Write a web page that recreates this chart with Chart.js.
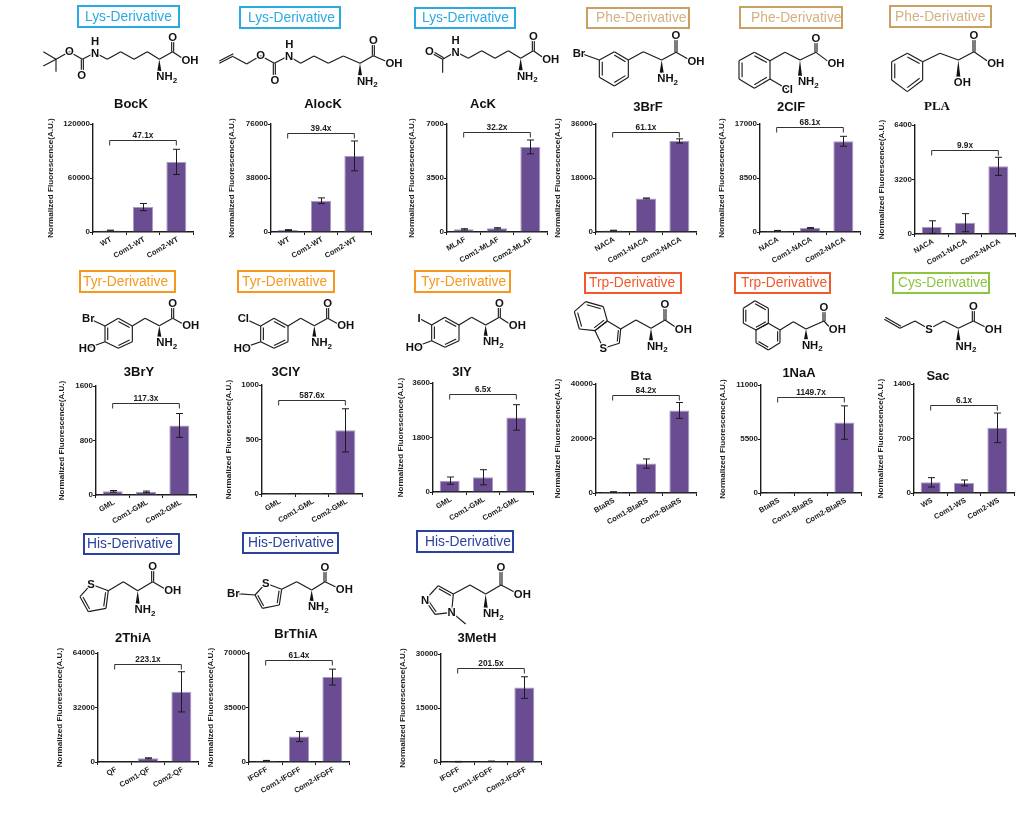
<!DOCTYPE html>
<html><head><meta charset="utf-8">
<script src="https://cdn.jsdelivr.net/npm/chart.js@4"></script>
<style>
html,body{margin:0;padding:0;background:#fff;width:1034px;height:819px;overflow:hidden}
#page{position:relative;width:1034px;height:819px;font-family:"Liberation Sans",Arial,sans-serif;filter:blur(.35px)}
canvas{position:absolute}
.tag{position:absolute;box-sizing:border-box;border-style:solid;border-width:2px;font-size:13.8px;line-height:1}
.tag span{position:absolute;white-space:nowrap}
.ttl{position:absolute;font-weight:bold;font-size:13px;color:#111;transform:translate(-50%,-50%);white-space:nowrap}
svg{position:absolute;left:0;top:0}
</style></head><body><div id="page"><svg id="mols" width="1034" height="819"></svg></div>
<script>
// ---- category labels
const catWT=['WT','Com1-WT','Com2-WT'];
const catMLAF=['MLAF','Com1-MLAF','Com2-MLAF'];
const catNACA=['NACA','Com1-NACA','Com2-NACA'];
const catGML=['GML','Com1-GML','Com2-GML'];
const catBtaRS=['BtaRS','Com1-BtaRS','Com2-BtaRS'];
const catWS=['WS','Com1-WS','Com2-WS'];
const catQF=['QF','Com1-QF','Com2-QF'];
const catIFGFF=['IFGFF','Com1-IFGFF','Com2-IFGFF'];
// ---- bar values and error half-widths
const valBocK=[1650,27700,77900],   errBocK=[400,4000,14000];
const valAlocK=[1360,22000,53550],  errAlocK=[300,2000,10500];
const valAcK=[171,237,5514],        errAcK=[40,40,450];
const val3BrF=[497,11190,30350],    err3BrF=[100,150,700];
const val2ClF=[208,630,14280],      err2ClF=[40,60,780];
const valPLA=[405,665,3973],        errPLA=[370,530,530];
const val3BrY=[54,46,1021],         err3BrY=[12,12,175];
const val3ClY=[1,1,584],            err3ClY=[0,0,198];
const val3IY=[375,486,2463],        err3IY=[120,250,420];
const valBta=[360,10800,30300],     errBta=[100,1700,2900];
const val1NaA=[6,6,7175],           err1NaA=[0,0,1700];
const valSac=[137,129,837],         errSac=[60,38,190];
const val2ThiA=[180,2160,41200],    err2ThiA=[0,300,11800];
const valBrThiA=[870,16320,54540],  errBrThiA=[150,3200,5100];
const val3MetH=[102,200,20680],     err3MetH=[60,60,3000];
// ---- axis maxima, fold-change labels, bracket levels
const axisMax=[120000,76000,7000,36000,17000,6400,1600,1000,3600,40000,11000,1400,64000,70000,30000];
const foldLabels=['47.1x','39.4x','32.2x','61.1x','68.1x','9.9x','117.3x','587.6x','6.5x','84.2x','1149.7x','6.1x','223.1x','61.4x','201.5x'];
const bracketLevels=[102000,70000,6480,33200,16600,4930,1355,862,3240,36000,9750,1130,57500,65300,26200];
const panelNames=['BocK','AlocK','AcK','3BrF','2ClF','PLA','3BrY','3ClY','3IY','Bta','1NaA','Sac','2ThiA','BrThiA','3MetH'];
const panelCats=[catWT,catWT,catMLAF,catNACA,catNACA,catNACA,catGML,catGML,catGML,catBtaRS,catBtaRS,catWS,catQF,catIFGFF,catIFGFF];
const panelVals=[valBocK,valAlocK,valAcK,val3BrF,val2ClF,valPLA,val3BrY,val3ClY,val3IY,valBta,val1NaA,valSac,val2ThiA,valBrThiA,val3MetH];
const panelErrs=[errBocK,errAlocK,errAcK,err3BrF,err2ClF,errPLA,err3BrY,err3ClY,err3IY,errBta,err1NaA,errSac,err2ThiA,errBrThiA,err3MetH];

// ---- layout: axis x, plot top, plot bottom, y-title offset, title x, title y
const layout=[
[93,124,232,42,131,103],[271,124,232,39,323,103],[447,124,232,35,483,103],[596,124,232,38,648,106],[760,124,232,38,791,106],[915,125,234,33,937,106],
[96,386,495,34,139,371],[262,385,494,33,286,371],[433,383,492,32,462,371],[596,384,493,38,641,375],[761,385,493,38,799,372],[914,384,493,33,938,375],
[98,653,762,38,133,637],[249,653,762,38,296,633],[441,654,762,38,477,637]];

const INK='#1c1c1c', BAR='#6a4c93';
const page=document.getElementById('page');

const overlay={id:'overlay',afterDatasetsDraw(c,a,o){
  const g=c.ctx,x=c.scales.x,y=c.scales.y;
  g.save();g.strokeStyle=INK;g.lineWidth=1;
  o.vals.forEach((v,i)=>{const e=o.errs[i];if(!e)return;
    const px=Math.round(x.getPixelForValue(i))+.5,t=y.getPixelForValue(v+e),b=y.getPixelForValue(Math.max(v-e,0));
    g.beginPath();g.moveTo(px,t);g.lineTo(px,b);g.moveTo(px-3.5,t);g.lineTo(px+3.5,t);g.moveTo(px-3.5,b);g.lineTo(px+3.5,b);g.stroke();});
  const x0=x.getPixelForValue(0),x1=x.getPixelForValue(2),by=Math.round(y.getPixelForValue(o.level))+.5;
  g.strokeStyle='#333';g.beginPath();g.moveTo(x0,by+5);g.lineTo(x0,by);g.lineTo(x1,by);g.lineTo(x1,by+5);g.stroke();
  g.fillStyle=INK;g.font='bold 8.3px "Liberation Sans"';g.textAlign='center';g.textBaseline='alphabetic';
  g.fillText(o.label,(x0+x1)/2,by-2.5);
  g.restore();}};

panelNames.forEach((name,i)=>{
  const [ax,top,bot,off,tx,ty]=layout[i];
  const cv=document.createElement('canvas');
  const h=10+(bot-top)+50;
  cv.width=170;cv.height=h;cv.style.left=(ax-60)+'px';cv.style.top=(top-10)+'px';cv.style.width='170px';cv.style.height=h+'px';
  page.appendChild(cv);
  const t=document.createElement('div');t.className='ttl';t.textContent=name;t.style.left=tx+'px';t.style.top=ty+'px';
  if(name==='PLA')t.style.fontFamily='"Liberation Serif",serif';
  page.appendChild(t);
  new Chart(cv,{type:'bar',
    data:{labels:panelCats[i],datasets:[{data:panelVals[i],backgroundColor:BAR,borderColor:'#a99cc0',borderWidth:{top:1,left:1,right:1,bottom:0},barPercentage:.6,categoryPercentage:1}]},
    plugins:[overlay],
    options:{responsive:false,animation:false,devicePixelRatio:1,
      layout:{padding:{top:10,right:10,left:0,bottom:0}},
      plugins:{legend:{display:false},tooltip:{enabled:false},title:{display:false},
        overlay:{vals:panelVals[i],errs:panelErrs[i],level:bracketLevels[i],label:foldLabels[i]}},
      scales:{
        x:{afterFit(s){s.height=50},
           grid:{drawOnChartArea:false,tickLength:3,tickColor:INK,tickWidth:1},border:{color:INK,width:1.4},
           ticks:{autoSkip:false,maxRotation:30,minRotation:30,padding:0,labelOffset:1.5,color:INK,font:{family:'"Liberation Sans"',weight:'bold',size:7.5}}},
        y:{min:0,max:axisMax[i],afterFit(s){s.width=60},
           grid:{drawOnChartArea:false,tickLength:3,tickColor:INK,tickWidth:1},border:{color:INK,width:1.4},
           ticks:{stepSize:axisMax[i]/2,padding:0,color:INK,callback:v=>String(v),font:{family:'"Liberation Sans"',weight:'bold',size:8}},
           title:{display:true,text:'Normalized Fluorescence(A.U.)',color:INK,padding:{top:60-off-4,bottom:0},font:{family:'"Liberation Sans"',weight:'bold',size:8.1,lineHeight:1}}}
      }}});
});

// ---- category tags: box l,t,r,b, text x, label, border, text colour
const LYS='#29abe2',PHE='#c9a064',PHET='#d3b183',TYR='#f7981d',TRP='#f0592a',CYS='#8cc63f',HIS='#2b439e';
[[77,5,180,28,85,'Lys-Derivative',LYS,LYS],[239,6,341,29,248,'Lys-Derivative',LYS,LYS],[414,7,516,29,422,'Lys-Derivative',LYS,LYS],
 [586,7,690,29,596,'Phe-Derivative',PHE,PHET],[739,6,843,29,751,'Phe-Derivative',PHE,PHET],[889,5,992,28,895,'Phe-Derivative',PHE,PHET],
 [79,270,176,293,83,'Tyr-Derivative',TYR,TYR],[237,270,335,293,242,'Tyr-Derivative',TYR,TYR],[414,270,511,293,421,'Tyr-Derivative',TYR,TYR],
 [584,272,682,294,589,'Trp-Derivative',TRP,TRP],[734,272,831,294,741,'Trp-Derivative',TRP,TRP],[892,272,990,294,898,'Cys-Derivative',CYS,CYS],
 [83,533,180,555,87,'His-Derivative',HIS,HIS],[242,532,339,554,248,'His-Derivative',HIS,HIS],[416,530,514,553,425,'His-Derivative',HIS,HIS]
].forEach(([l,t,r,b,tx,s,bc,tc])=>{
  const d=document.createElement('div');d.className='tag';
  d.style.cssText=`left:${l}px;top:${t}px;width:${r-l}px;height:${b-t}px;border-color:${bc};color:${tc}`;
  const sp=document.createElement('span');sp.textContent=s;sp.style.left=(tx-l-2)+'px';sp.style.top=((b-t-4-13.8)/2)+'px';d.appendChild(sp);page.appendChild(d);
});

// ---- structural formula drawings
let svg='';
function line(a,b){return `<line x1="${a[0]}" y1="${a[1]}" x2="${b[0]}" y2="${b[1]}"/>`}
function poly(p){let s='';for(let i=0;i<p.length-1;i++)s+=line(p[i],p[i+1]);return s}
function dbl(a,b,sx,sy){return line(a,b)+line([a[0]+sx,a[1]+sy],[b[0]+sx,b[1]+sy])}
function ring(p,ed){const n=p.length,c=[p.reduce((s,q)=>s+q[0],0)/n,p.reduce((s,q)=>s+q[1],0)/n];
  let s=poly(p.concat([p[0]]));
  ed.forEach(i=>{const a=p[i],b=p[(i+1)%n];
    const ia=[a[0]+(c[0]-a[0])*.2,a[1]+(c[1]-a[1])*.2],ib=[b[0]+(c[0]-b[0])*.2,b[1]+(c[1]-b[1])*.2];
    s+=line(ia,ib)});return s}
function lab(t,x,y){let body=t;
  if(t==='NH2')body='NH<tspan font-size="24" dy="8">2</tspan>';
  return `<text x="${x}" y="${y}">${body}</text>`}
function tail(a,c,oy,oh,n,nl){
  const wy=n[1]-17;
  return {l:line(a,c)+dbl([c[0]-3,c[1]],[c[0]-3,oy+10],6,0)+line(c,[oh[0]-24,oh[1]-6])+
    `<polygon points="${a[0]},${a[1]} ${a[0]-6},${wy} ${a[0]+6},${wy}" fill="#111" stroke="none"/>`,
    t:lab('O',c[0],oy+12)+lab('OH',oh[0],oh[1]+11)+lab(nl||'NH2',n[0],n[1]+11)}}
function mol(ox,oy,bonds,labels,T){
  svg+=`<g transform="translate(${ox},${oy}) scale(.33333)"><g stroke="#1a1a1a" stroke-width="3.4" fill="none">${bonds}${T.l}</g>`+
   `<g font-family="Liberation Sans" font-size="34" font-weight="bold" fill="#111" text-anchor="middle" stroke="#fff" stroke-width="7" paint-order="stroke">${labels.map(l=>lab(...l)).join('')}${T.t}</g></g>`}

mol(30,0,poly([[40,155],[78,178],[40,198]])+line([78,178],[78,215])+poly([[78,178],[118,155],[157,178],[195,158],[232,178],[272,155],[312,178],[352,155],[388,178]])+dbl([154,178],[154,212],6,0),
  [['O',118,166],['O',155,236],['N',195,170],['H',195,134]],tail([388,178],[428,155],112,[480,180],[410,230]));
mol(30,0,dbl([568,190],[610,168],0,-7)+poly([[610,170],[650,192],[692,167],[733,190],[775,168],[812,190],[852,168],[895,190],[940,168],[990,190]])+dbl([730,190],[730,226],6,0),
  [['O',692,178],['O',735,251],['N',777,180],['H',778,144]],tail([990,190],[1030,167],120,[1092,190],[1012,243]));
mol(370,0,dbl([190,162],[218,178],3,-5)+line([218,178],[218,218])+poly([[218,178],[257,155],[295,175],[335,152],[375,175],[415,152],[452,175]]),
  [['O',178,166],['N',257,167],['H',257,132]],tail([452,175],[490,152],108,[542,178],[472,228]));
mol(370,0,ring([[733,155],[775,180],[775,232],[733,258],[688,232],[688,180]],[0,2,4])+poly([[627,158],[688,180]])+poly([[775,180],[820,155],[875,180]]),
  [['Br',627,170]],tail([875,180],[918,157],105,[978,183],[893,235]));
mol(700,0,ring([[163,157],[210,182],[210,237],[163,265],[117,237],[117,182]],[0,2,4])+line([210,237],[262,268])+poly([[210,182],[255,157],[300,180]]),
  [['Cl',262,280]],tail([300,180],[348,157],113,[408,190],[325,245]));
mol(700,0,ring([[622,160],[668,185],[668,240],[622,275],[575,240],[575,185]],[0,2,4])+poly([[668,185],[720,160],[775,180]]),
  [],tail([775,180],[822,155],105,[887,190],[787,247],'OH'));
mol(30,260,ring([[265,175],[307,198],[307,245],[265,265],[225,245],[225,198]],[0,2,4])+line([175,175],[225,198])+line([172,265],[225,245])+poly([[307,198],[345,175],[388,197],]),
  [['Br',175,187],['HO',172,277]],tail([388,197],[428,175],130,[482,197],[410,247]));
mol(30,260,ring([[732,175],[774,198],[774,245],[732,265],[692,245],[692,198]],[0,2,4])+line([640,175],[692,198])+line([637,265],[692,245])+poly([[774,198],[812,175],[853,197]]),
  [['Cl',640,187],['HO',637,277]],tail([853,197],[893,175],130,[947,197],[875,247]));
mol(370,260,ring([[225,172],[267,195],[267,242],[225,262],[185,242],[185,195]],[0,2,4])+line([147,175],[185,195])+line([133,262],[185,242])+poly([[267,195],[305,172],[347,195]]),
  [['I',147,187],['HO',133,274]],tail([347,195],[388,172],128,[442,197],[370,245]));
mol(370,260,ring([[647,125],[700,140],[712,183],[675,212],[628,207],[613,155]],[0,2,4])+ring([[712,183],[752,207],[748,250],[700,265],[675,212]],[1])+poly([[752,207],[798,180],[843,205]]),
  [['S',700,275]],tail([843,205],[885,180],133,[940,207],[862,258]));
mol(700,260,ring([[165,122],[205,145],[205,190],[168,210],[130,190],[130,145]],[0,2,4])+ring([[205,190],[240,210],[240,248],[205,270],[168,248],[168,210]],[1,3])+poly([[240,210],[280,185],[318,207]]),
  [],tail([318,207],[372,183],142,[412,207],[337,255]));
mol(700,260,dbl([553,178],[600,205],3,-6)+poly([[600,205],[645,183],[687,207],[732,183],[775,205]]),
  [['S',687,219]],tail([775,205],[820,183],137,[880,207],[798,258]));
mol(30,520,ring([[183,193],[235,212],[228,265],[175,275],[150,230]],[1,3])+poly([[235,212],[280,185],[323,212]]),
  [['S',183,205]],tail([323,212],[368,185],137,[428,212],[345,268]));
mol(30,520,ring([[707,190],[755,208],[748,255],[697,265],[675,225]],[1,3])+line([610,220],[675,225])+poly([[755,208],[800,185],[845,210]]),
  [['S',707,202],['Br',610,232]],tail([845,210],[885,185],140,[943,208],[865,260]));
mol(370,520,ring([[250,222],[205,197],[165,240],[195,283],[245,277]],[0,2])+line([245,277],[287,312])+poly([[250,222],[300,195],[347,222]]),
  [['N',165,252],['N',245,289]],tail([347,222],[393,195],140,[457,222],[370,280]));
document.getElementById('mols').innerHTML=svg;
</script></body></html>
